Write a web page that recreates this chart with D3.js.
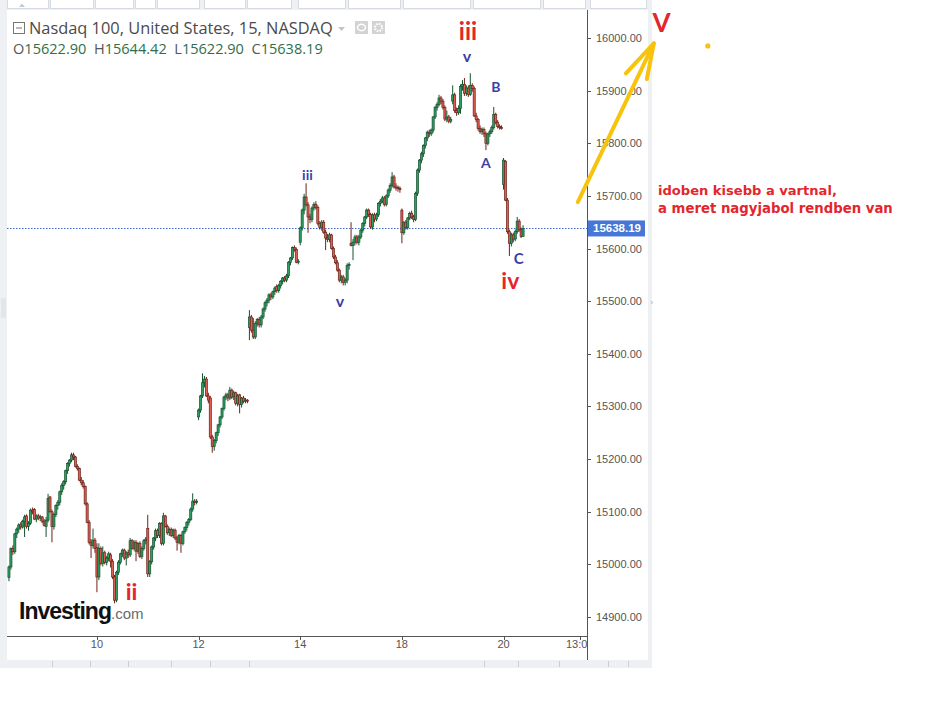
<!DOCTYPE html>
<html>
<head>
<meta charset="utf-8">
<script src="https://cdn.jsdelivr.net/npm/d3@7"></script>
<style>
  body { margin: 0; background: #fff; }
  svg { display: block; }
</style>
</head>
<body>
<svg id="chart" width="927" height="716"></svg>
<script>
// ---- data -----------------------------------------------------------
var title = 'Nasdaq 100, United States, 15, NASDAQ';
var lastBar = { o: 15622.90, h: 15644.42, l: 15622.90, c: 15638.19 };

var priceTicks = [14900, 15000, 15100, 15200, 15300, 15400, 15500, 15600, 15700, 15800, 15900, 16000];
var timeLabels = ['10', '12', '14', '18', '20', '13:00'];
var timeTickBars = [45, 97, 149, 201, 253, 292];

// 15 min candles, [open, high, low, close]
var candles = [
  // 8th (partial)
  [14975,14998,14968,14995],[14995,15032,14990,15030],[15030,15036,15018,15024],[15024,15060,15020,15058],
  [15058,15070,15050,15067],[15067,15078,15060,15075],[15075,15080,15066,15071],[15071,15085,15068,15082],
  [15082,15094,15052,15090],[15092,15095,15068,15072],[15072,15082,15064,15078],[15078,15106,15075,15103],
  [15103,15108,15095,15100],[15104,15107,15084,15086],[15086,15095,15080,15092],[15092,15096,15084,15088],
  [15088,15094,15082,15090],[15090,15092,15078,15082],[15082,15086,15072,15074],
  // 9th
  [15072,15090,15052,15084],[15084,15134,15080,15125],[15128,15130,15098,15100],[15100,15104,15042,15072],
  [15072,15098,15066,15095],[15095,15114,15090,15112],[15112,15122,15104,15118],[15118,15140,15112,15138],
  [15138,15154,15132,15150],[15150,15160,15142,15157],[15157,15180,15152,15178],[15178,15194,15172,15192],
  [15192,15200,15186,15198],[15198,15212,15194,15208],[15208,15212,15198,15204],[15204,15206,15184,15186],
  [15186,15190,15178,15182],[15182,15184,15158,15160],[15160,15166,15150,15155],[15155,15160,15144,15148],
  [15148,15150,15112,15115],[15115,15118,15078,15080],[15080,15084,15038,15042],[15042,15048,15012,15036],
  [15036,15068,15030,15046],[15046,15050,15022,15030],
  // 10th
  [15032,15040,14947,14976],[14976,15040,14970,15030],[15030,15034,14998,15002],[15002,15034,14996,15022],
  [15022,15026,15000,15004],[15004,15016,14998,15012],[15012,15024,15006,15020],[15018,15022,14994,15006],
  [15006,15010,14972,14976],[14976,14980,14926,14932],[14932,14988,14928,14985],[14985,15008,14980,15004],
  [15004,15022,15000,15020],[15020,15030,15014,15027],[15027,15030,15008,15012],[15012,15025,14998,15022],
  [15022,15028,15012,15018],[15018,15050,15014,15045],[15045,15048,15028,15030],[15030,15046,15026,15042],
  [15042,15046,15006,15025],[15025,15042,15020,15040],[15040,15044,15012,15015],[15015,15034,15010,15030],
  [15030,15048,15026,15045],[15045,15052,15038,15048],
  // 11th
  [15068,15094,14976,14982],[14982,15008,14976,15005],[15005,15036,15000,15033],[15033,15052,15028,15050],
  [15050,15068,15044,15064],[15064,15068,15050,15055],[15055,15080,15050,15078],[15078,15080,15036,15040],
  [15040,15098,15036,15092],[15092,15094,15070,15072],[15072,15076,15056,15060],[15060,15070,15054,15066],
  [15066,15070,15052,15055],[15055,15068,15050,15065],[15065,15068,15046,15050],[15050,15054,15026,15042],
  [15042,15058,15038,15055],[15055,15058,15022,15040],[15040,15064,15036,15062],[15062,15072,15058,15070],
  [15070,15082,15064,15080],[15080,15088,15074,15085],[15085,15108,15082,15105],[15105,15135,15100,15120],
  [15120,15124,15112,15118],[15118,15124,15114,15120],
  // 12th
  [15280,15296,15274,15293],[15293,15322,15288,15320],[15320,15363,15316,15345],[15345,15358,15336,15352],
  [15352,15356,15318,15320],[15320,15326,15306,15312],[15316,15320,15238,15242],[15242,15246,15212,15224],
  [15224,15238,15216,15235],[15235,15252,15230,15250],[15250,15267,15244,15265],[15265,15282,15260,15280],
  [15280,15298,15276,15296],[15296,15320,15292,15318],[15318,15326,15312,15322],[15322,15326,15310,15316],
  [15316,15337,15312,15331],[15331,15334,15314,15318],[15318,15330,15312,15326],[15326,15328,15302,15306],
  [15306,15324,15300,15320],[15322,15324,15287,15304],[15304,15318,15298,15316],[15316,15320,15306,15310],
  [15310,15316,15306,15312],[15312,15314,15306,15310],
  // 13th
  [15450,15483,15426,15470],[15470,15474,15440,15445],[15445,15468,15428,15432],[15432,15462,15428,15458],
  [15458,15468,15452,15465],[15465,15470,15450,15455],[15455,15474,15450,15470],[15470,15488,15466,15485],
  [15485,15500,15480,15497],[15497,15506,15490,15502],[15502,15515,15496,15512],[15512,15516,15502,15508],
  [15508,15520,15504,15518],[15518,15528,15512,15525],[15528,15532,15516,15520],[15520,15533,15516,15530],
  [15530,15540,15524,15538],[15538,15546,15532,15544],[15544,15548,15536,15540],[15540,15552,15536,15548],
  [15548,15576,15544,15574],[15574,15584,15568,15582],[15582,15604,15578,15602],[15602,15606,15594,15598],
  [15598,15602,15572,15574],[15574,15580,15570,15576],
  // 14th
  [15612,15642,15606,15639],[15639,15676,15634,15673],[15673,15704,15665,15698],[15698,15724,15680,15683],
  [15683,15688,15630,15660],[15660,15666,15648,15655],[15655,15680,15650,15677],[15677,15688,15672,15684],
  [15684,15690,15674,15678],[15678,15682,15644,15648],[15648,15652,15636,15640],[15640,15654,15634,15650],
  [15650,15654,15628,15631],[15631,15636,15597,15620],[15620,15628,15612,15617],[15617,15630,15612,15626],
  [15626,15628,15598,15600],[15600,15604,15580,15584],[15584,15588,15570,15573],[15573,15578,15556,15559],
  [15559,15562,15536,15540],[15540,15550,15534,15546],[15546,15550,15530,15536],[15536,15544,15530,15540],
  [15540,15572,15534,15568],[15568,15574,15560,15570],
  // 17th
  [15610,15650,15604,15606],[15606,15618,15578,15612],[15612,15626,15606,15622],[15622,15626,15608,15612],
  [15612,15626,15606,15622],[15622,15638,15618,15635],[15635,15650,15630,15648],[15648,15662,15642,15660],
  [15660,15676,15656,15673],[15673,15676,15660,15665],[15665,15668,15638,15641],[15641,15667,15636,15664],
  [15664,15668,15650,15656],[15656,15668,15652,15664],[15664,15688,15660,15686],[15686,15694,15680,15690],
  [15690,15700,15686,15696],[15696,15700,15680,15684],[15684,15703,15680,15700],[15700,15714,15696,15711],
  [15711,15724,15706,15720],[15720,15745,15716,15736],[15736,15740,15714,15717],[15717,15724,15710,15716],
  [15716,15720,15708,15714],[15714,15718,15706,15712],
  // 18th
  [15673,15676,15610,15630],[15630,15652,15626,15650],[15650,15654,15636,15640],[15640,15660,15636,15658],
  [15658,15670,15654,15667],[15667,15672,15656,15660],[15660,15664,15650,15655],[15655,15708,15652,15705],
  [15705,15752,15700,15749],[15749,15770,15744,15768],[15768,15784,15762,15780],[15780,15798,15774,15796],
  [15796,15812,15790,15810],[15810,15824,15804,15821],[15821,15826,15812,15818],[15818,15828,15814,15825],
  [15825,15852,15820,15850],[15850,15871,15846,15868],[15868,15878,15862,15874],[15874,15892,15870,15886],
  [15886,15890,15874,15880],[15880,15884,15864,15868],[15868,15872,15842,15846],[15846,15862,15840,15850],
  [15850,15854,15838,15842],[15842,15850,15838,15845],
  // 19th
  [15880,15910,15874,15892],[15892,15896,15858,15862],[15862,15868,15852,15858],[15858,15872,15854,15866],
  [15866,15912,15856,15908],[15908,15920,15900,15912],[15912,15924,15890,15895],[15895,15910,15890,15905],
  [15905,15910,15888,15893],[15893,15933,15890,15910],[15910,15914,15898,15904],[15904,15908,15850,15852],
  [15852,15858,15840,15845],[15845,15848,15824,15828],[15828,15834,15818,15822],[15822,15830,15816,15826],
  [15826,15830,15812,15818],[15818,15822,15787,15800],[15800,15820,15796,15818],[15818,15826,15812,15822],
  [15822,15834,15818,15830],[15830,15869,15826,15855],[15855,15858,15836,15840],[15840,15844,15828,15832],
  [15832,15836,15826,15830],[15830,15834,15826,15829],
  // 20th
  [15722,15772,15712,15768],[15766,15768,15690,15692],[15692,15696,15628,15632],[15632,15636,15586,15610],
  [15610,15630,15604,15626],[15626,15630,15612,15618],[15618,15636,15614,15632],[15632,15660,15628,15652],
  [15652,15656,15632,15636],[15636,15640,15620,15623],
  [lastBar.o, lastBar.h, lastBar.l, lastBar.c]
];

// hand drawn wave marks: [text, bar index, price, size, colour]
var waveMarks = [
  ['ii', 62.7, 14932, 23, 'red'],
  ['iii', 152.7, 15731, 14, 'blue'],
  ['v', 169.3, 15489, 16, 'blue'],
  ['iii', 234.8, 15996, 24, 'red'],
  ['v', 234.3, 15954, 16, 'blue'],
  ['A', 244.0, 15753, 14, 'blue'],
  ['B', 249.1, 15897, 14, 'blue'],
  ['C', 260.8, 15570, 15, 'blue'],
  ['iv', 256.5, 15523, 23, 'red'],
  ['V', 333.8, 16011, 26, 'red']
];
var arrowPts = [[291, 15688], [329.9, 15990]];
var arrowBarbs = [[315.6, 15933], [326.3, 15922]];
var dotPt = [357.5, 15985];
var noteLines = ['idoben kisebb a vartnal,', 'a meret nagyjabol rendben van'];

// ---- layout ---------------------------------------------------------
var plot = { left: 7, right: 587, top: 10, bottom: 636 };
var colors = {
  upFill: '#2f9e63', upLine: '#14522f',
  dnFill: '#dd5e52', dnLine: '#6e2219',
  red: '#e3262d', blue: '#3b3fa6', yellow: '#f8c30c',
  axis: '#555', text: '#555'
};

var x = d3.scaleLinear().domain([-1, 295.7]).range([plot.left, plot.right]);
var y = d3.scaleLinear().domain([14900, 16000]).range([617, 38]);

var svg = d3.select('#chart');

function fit(sel, width) {
  var len = sel.node().getComputedTextLength();
  var fs = parseFloat(sel.attr('font-size'));
  sel.attr('font-size', (fs * width / len).toFixed(2));
  return sel;
}

// frame ---------------------------------------------------------------- //
svg.append('rect').attr('width', 652).attr('height', 668).attr('fill', '#eef0f3');
svg.append('rect').attr('x', 7).attr('y', 10).attr('width', 641).attr('height', 650).attr('fill', '#fff');

// top toolbar stubs
var topBoxes = [[7, 48], [50, 93], [95, 133], [135, 155], [157, 199], [204, 245], [247, 291], [298, 345], [348, 400], [403, 470], [473, 540], [543, 585], [590, 646]];
svg.append('g').selectAll('rect').data(topBoxes).join('rect')
  .attr('x', function (d) { return d[0] + 0.5; })
  .attr('y', -4)
  .attr('width', function (d) { return d[1] - d[0]; })
  .attr('height', 12.5)
  .attr('fill', '#fff')
  .attr('stroke', '#d6dbe1');
svg.append('path').attr('d', 'M19,7 L22,3.5 L25,7 Z').attr('fill', '#c4cad2');

// bottom toolbar strip
var bottomTicks = [52, 90, 128, 171, 210, 249, 484, 518, 559, 608, 628];
svg.append('g').selectAll('line').data(bottomTicks).join('line')
  .attr('x1', function (d) { return d + 0.5; }).attr('x2', function (d) { return d + 0.5; })
  .attr('y1', 661).attr('y2', 667)
  .attr('stroke', '#c9ced5');

// side tabs
svg.append('rect').attr('x', 1).attr('y', 298).attr('width', 5).attr('height', 20).attr('fill', '#e2e6eb');
svg.append('text').attr('x', 650).attr('y', 305).attr('font-size', 9).attr('fill', '#aab')
  .attr('font-family', 'DejaVu Sans').text('›');

// candles ---------------------------------------------------------------- //
svg.append('defs').append('clipPath').attr('id', 'plotClip')
  .append('rect')
  .attr('x', plot.left).attr('y', plot.top)
  .attr('width', plot.right - plot.left).attr('height', plot.bottom - plot.top);

var plotG = svg.append('g').attr('clip-path', 'url(#plotClip)');

// last price line
plotG.append('line')
  .attr('x1', plot.left).attr('x2', plot.right)
  .attr('y1', Math.round(y(lastBar.c)) + 0.5).attr('y2', Math.round(y(lastBar.c)) + 0.5)
  .attr('stroke', '#3a66c8')
  .attr('stroke-dasharray', '1.5,1.5');

var candle = plotG.selectAll('g.candle')
  .data(candles)
  .join('g')
  .attr('class', 'candle');

candle.append('line')
  .attr('x1', function (d, i) { return x(i); })
  .attr('x2', function (d, i) { return x(i); })
  .attr('y1', function (d) { return y(d[1]); })
  .attr('y2', function (d) { return y(d[2]); })
  .attr('stroke', function (d) { return d[3] >= d[0] ? colors.upLine : colors.dnLine; })
  .attr('stroke-width', 1);

candle.append('rect')
  .attr('x', function (d, i) { return x(i) - 1.05; })
  .attr('width', 2.1)
  .attr('y', function (d) { return y(Math.max(d[0], d[3])); })
  .attr('height', function (d) { return Math.max(1, Math.abs(y(d[0]) - y(d[3]))); })
  .attr('fill', function (d) { return d[3] >= d[0] ? colors.upFill : colors.dnFill; })
  .attr('stroke', function (d) { return d[3] >= d[0] ? colors.upLine : colors.dnLine; })
  .attr('stroke-width', 0.7);

// axes ---------------------------------------------------------------- //
var xAxisG = svg.append('g');
xAxisG.append('line')
  .attr('x1', plot.left).attr('x2', plot.right)
  .attr('y1', plot.bottom + 0.5).attr('y2', plot.bottom + 0.5)
  .attr('stroke', colors.axis);
xAxisG.selectAll('line.tick').data(timeTickBars).join('line')
  .attr('class', 'tick')
  .attr('x1', function (d) { return Math.round(x(d)) + 0.5; })
  .attr('x2', function (d) { return Math.round(x(d)) + 0.5; })
  .attr('y1', plot.bottom).attr('y2', plot.bottom + 4)
  .attr('stroke', colors.axis);
xAxisG.selectAll('text').data(timeTickBars).join('text')
  .attr('x', function (d) { return x(d); })
  .attr('y', 648)
  .attr('text-anchor', 'middle')
  .attr('font-family', 'Liberation Sans, Arial, sans-serif')
  .attr('font-size', 11)
  .attr('fill', colors.text)
  .text(function (d, i) { return timeLabels[i]; });

// price axis panel (covers the clipped time label)
var yAxisG = svg.append('g');
yAxisG.append('rect')
  .attr('x', plot.right + 0.5).attr('y', plot.top)
  .attr('width', 648 - plot.right - 0.5).attr('height', 650)
  .attr('fill', '#fff');
yAxisG.append('line')
  .attr('x1', plot.right + 0.5).attr('x2', plot.right + 0.5)
  .attr('y1', plot.top).attr('y2', 660)
  .attr('stroke', colors.axis);
yAxisG.selectAll('line.tick').data(priceTicks).join('line')
  .attr('class', 'tick')
  .attr('x1', plot.right).attr('x2', plot.right + 4)
  .attr('y1', function (d) { return Math.round(y(d)) + 0.5; })
  .attr('y2', function (d) { return Math.round(y(d)) + 0.5; })
  .attr('stroke', colors.axis);
yAxisG.selectAll('text').data(priceTicks).join('text')
  .attr('x', 596)
  .attr('y', function (d) { return y(d) + 4; })
  .attr('font-family', 'Liberation Sans, Arial, sans-serif')
  .attr('font-size', 11)
  .attr('fill', colors.text)
  .text(function (d) { return d3.format('.2f')(d); });

// last price tag
yAxisG.append('rect')
  .attr('x', plot.right + 1).attr('y', y(lastBar.c) - 8)
  .attr('width', 57).attr('height', 16)
  .attr('fill', '#4677d6');
yAxisG.append('text')
  .attr('x', 593).attr('y', y(lastBar.c) + 4)
  .attr('font-family', 'Liberation Sans, Arial, sans-serif')
  .attr('font-size', 11.5).attr('font-weight', 'bold')
  .attr('fill', '#fff')
  .text(d3.format('.2f')(lastBar.c));

// legend ---------------------------------------------------------------- //
svg.append('rect').attr('x', 13.5).attr('y', 22.5).attr('width', 11).attr('height', 11)
  .attr('fill', 'none').attr('stroke', '#777');
svg.append('line').attr('x1', 16).attr('x2', 22).attr('y1', 28).attr('y2', 28).attr('stroke', '#777');
fit(svg.append('text')
  .attr('x', 29).attr('y', 33.5)
  .attr('font-family', 'Open Sans, Noto Sans, sans-serif')
  .attr('font-size', 15)
  .attr('fill', '#4a4a4a')
  .text(title), 304);
svg.append('path').attr('d', 'M338,27 L345,27 L341.5,31 Z').attr('fill', '#c3c3c3');
svg.append('rect').attr('x', 355).attr('y', 21).attr('width', 13).attr('height', 13).attr('fill', '#d3d3d3');
svg.append('ellipse').attr('cx', 361.5).attr('cy', 27.5).attr('rx', 4).attr('ry', 3.2)
  .attr('fill', 'none').attr('stroke', '#fff').attr('stroke-width', 1.4);
svg.append('rect').attr('x', 372).attr('y', 21).attr('width', 13).attr('height', 13).attr('fill', '#d3d3d3');
svg.append('circle').attr('cx', 378.5).attr('cy', 27.5).attr('r', 3.6)
  .attr('fill', 'none').attr('stroke', '#fff').attr('stroke-width', 2.2).attr('stroke-dasharray', '1.6,1.2');

var ohlcText = svg.append('text')
  .attr('x', 13).attr('y', 54)
  .attr('xml:space', 'preserve')
  .attr('font-family', 'Open Sans, Noto Sans, sans-serif')
  .attr('font-size', 13);
[['O', lastBar.o], ['H', lastBar.h], ['L', lastBar.l], ['C', lastBar.c]].forEach(function (p, k) {
  ohlcText.append('tspan').attr('fill', '#555').text((k ? '  ' : '') + p[0]);
  ohlcText.append('tspan').attr('fill', '#2f6f4c').text(d3.format('.2f')(p[1]));
});
fit(ohlcText, 310);

// investing.com logo
var logo = svg.append('text')
  .attr('x', 19).attr('y', 619)
  .attr('font-family', 'Liberation Sans, Arial, sans-serif');
var logoMain = logo.append('tspan').attr('font-size', 23).attr('font-weight', 'bold')
  .attr('letter-spacing', -1).attr('fill', '#111').text('Investing');
logo.append('tspan').attr('font-size', 15).attr('fill', '#6a6a6a').text('.com');

// hand drawn marks ------------------------------------------------------ //
var annG = svg.append('g');
annG.selectAll('text.wave').data(waveMarks).join('text')
  .attr('class', 'wave')
  .attr('x', function (d) { return x(d[1]); })
  .attr('y', function (d) { return y(d[2]); })
  .attr('text-anchor', 'middle')
  .attr('font-family', 'Lato, DejaVu Sans, sans-serif')
  .attr('font-weight', 'bold')
  .attr('font-size', function (d) { return d[3]; })
  .attr('fill', function (d) { return colors[d[4]]; })
  .text(function (d) { return d[0]; });

var line = d3.line()
  .x(function (d) { return x(d[0]); })
  .y(function (d) { return y(d[1]); });

annG.append('path')
  .attr('d', line(arrowPts))
  .attr('fill', 'none').attr('stroke', colors.yellow)
  .attr('stroke-width', 4).attr('stroke-linecap', 'round');
annG.append('path')
  .attr('d', line([arrowBarbs[0], arrowPts[1], arrowBarbs[1]]))
  .attr('fill', 'none').attr('stroke', colors.yellow)
  .attr('stroke-width', 4).attr('stroke-linecap', 'round').attr('stroke-linejoin', 'round');
annG.append('circle')
  .attr('cx', x(dotPt[0])).attr('cy', y(dotPt[1])).attr('r', 2.6)
  .attr('fill', colors.yellow);

var noteG = annG.append('g');
noteLines.forEach(function (t, k) {
  var el = noteG.append('text')
    .attr('x', 658).attr('y', 195 + k * 18)
    .attr('font-family', 'DejaVu Sans, sans-serif')
    .attr('font-weight', 'bold')
    .attr('font-size', 13)
    .attr('fill', colors.red)
    .text(t);
  fit(el, k ? 235 : 179);
});
</script>
</body>
</html>
